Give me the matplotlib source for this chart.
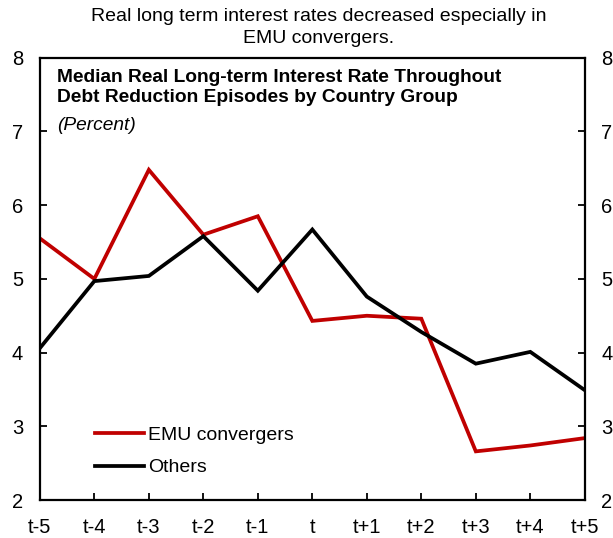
import matplotlib
matplotlib.use("Agg")
import matplotlib.pyplot as plt

plt.rcParams['font.family'] = ['Liberation Sans', 'DejaVu Sans']

periodos = ['t-5', 't-4', 't-3', 't-2', 't-1', 't', 't+1', 't+2', 't+3', 't+4', 't+5']
emu = [5.55, 5.00, 6.48, 5.60, 5.85, 4.43, 4.50, 4.46, 2.66, 2.74, 2.84]
outros = [4.06, 4.97, 5.04, 5.58, 4.84, 5.67, 4.76, 4.28, 3.85, 4.01, 3.49]

fig = plt.figure(figsize=(6.13, 5.38), dpi=100)
ax = fig.add_axes([0.065, 0.0706, 0.889, 0.822])

x = range(len(periodos))
ax.plot(x, emu, color='#C00000', lw=2.7, label='EMU convergers', solid_joinstyle='miter')
ax.plot(x, outros, color='black', lw=2.7, label='Others', solid_joinstyle='miter')

ax.set_xlim(0, len(periodos) - 1)
ax.set_ylim(2, 8)
ax.set_xticks(list(x))
ax.set_xticklabels(periodos)
ax.set_yticks(range(2, 9))

# moldura e marcas para dentro, eixo y dos dois lados
for s in ax.spines.values():
    s.set_linewidth(1.6)
ax.tick_params(axis='both', direction='in', length=5, width=1.3, labelsize=14.5)
ax.tick_params(axis='x', pad=13)
ax.tick_params(axis='y', left=True, right=True, labelleft=True, labelright=True, pad=12)

ax.text(0.031, 0.975, 'Median Real Long-term Interest Rate Throughout\nDebt Reduction Episodes by Country Group',
        transform=ax.transAxes, fontsize=13.8, fontweight='bold', va='top', ha='left', linespacing=1.25)
ax.text(0.031, 0.865, '(Percent)', transform=ax.transAxes, fontsize=13.8, style='italic', va='top', ha='left')

ax.legend(loc='lower left', bbox_to_anchor=(0.07, 0.014), frameon=False, fontsize=14,
          handlelength=2.5, handletextpad=0.2, labelspacing=0.75)

fig.text(0.52, 0.985, 'Real long term interest rates decreased especially in\nEMU convergers.',
         ha='center', va='top', fontsize=14, linespacing=1.35)

fig.savefig('out.png', dpi=100)
